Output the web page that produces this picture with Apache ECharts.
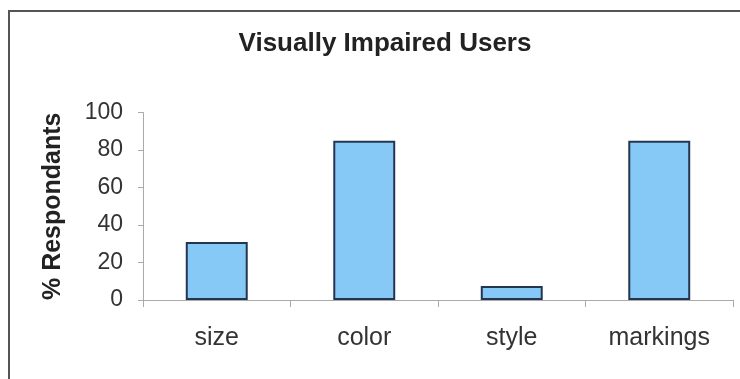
<!DOCTYPE html>
<html>
<head>
<meta charset="utf-8">
<script src="https://cdn.jsdelivr.net/npm/echarts@6/dist/echarts.min.js"></script>
<style>
html,body{margin:0;padding:0;background:#fff;}
#chart{width:740px;height:379px;}
</style>
</head>
<body>
<div id="chart"></div>
<script>
const chartTitle = 'Visually Impaired Users';
const yAxisTitle = '% Respondants';
const categories = ['size', 'color', 'style', 'markings'];
const respondents = [31, 85, 7.5, 85];
const yTicks = [0, 20, 40, 60, 80, 100];

const chart = echarts.init(document.getElementById('chart'), null, {renderer: 'canvas'});
const fontFam = '"Liberation Sans", Arial, sans-serif';
chart.setOption({
  animation: false,
  backgroundColor: '#ffffff',
  title: {
    text: chartTitle,
    left: 380,
    top: 26,
    textAlign: 'center',
    textStyle: {fontFamily: fontFam, fontSize: 26, fontWeight: 'bold', color: '#222'}
  },
  graphic: [{
    type: 'rect',
    shape: {x: 9, y: 11, width: 800, height: 420},
    style: {fill: 'none', stroke: '#555', lineWidth: 2},
    silent: true
  }],
  grid: {left: 143, right: 7, top: 112.5, bottom: 79, containLabel: false},
  xAxis: {
    type: 'category',
    data: categories,
    boundaryGap: true,
    axisLine: {lineStyle: {color: '#aaa', width: 1}},
    axisTick: {show: true, length: 7, alignWithLabel: false, lineStyle: {color: '#aaa'}},
    axisLabel: {fontFamily: fontFam, fontSize: 25, color: '#333', margin: 26}
  },
  yAxis: {
    type: 'value',
    min: yTicks[0],
    max: yTicks[yTicks.length - 1],
    interval: 20,
    name: yAxisTitle,
    nameLocation: 'middle',
    nameGap: 77,
    nameTextStyle: {fontFamily: fontFam, fontSize: 25, fontWeight: 'bold', color: '#222'},
    axisLine: {show: true, lineStyle: {color: '#aaa', width: 1}},
    axisTick: {show: true, length: 5, lineStyle: {color: '#aaa'}},
    splitLine: {show: false},
    axisLabel: {fontFamily: fontFam, fontSize: 23, color: '#333', margin: 20}
  },
  series: [{
    type: 'bar',
    data: respondents,
    barWidth: '42%',
    itemStyle: {color: '#86C9F7', borderColor: '#243550', borderWidth: 2}
  }]
});
</script>
</body>
</html>
